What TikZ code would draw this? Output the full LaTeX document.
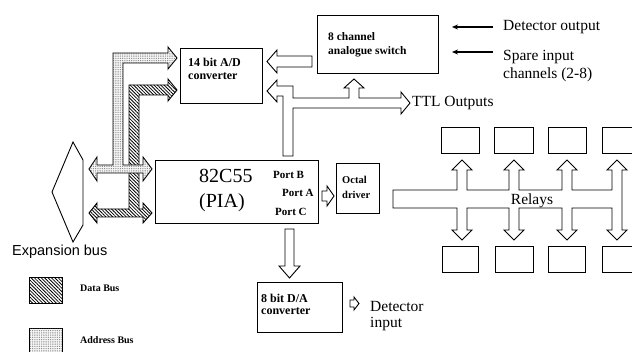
\documentclass[tikz,border=0pt]{standalone}
\usepackage{fontspec}
\setmainfont{Liberation Serif}
\newfontfamily\arialf{Liberation Sans}
\usetikzlibrary{patterns.meta,arrows.meta}
\begin{document}
\begin{tikzpicture}[x=1pt,y=-1pt,
  box/.style={draw, line width=0.9pt, inner sep=0pt, anchor=north west},
  bus/.style={draw, line width=0.9pt, line join=miter, fill=white},
  databus/.style={draw, line width=0.9pt, fill=white, postaction={pattern={Lines[angle=-45,distance=2.4pt,line width=0.8pt]}}},
  addrbus/.style={draw, line width=0.9pt, fill=gray!8, postaction={pattern={Dots[distance=1.8pt,radius=0.38pt]},pattern color=black!75}},
  small/.style={font=\fontsize{11}{12}\selectfont\bfseries, inner sep=0pt, anchor=west},
  conv/.style={font=\fontsize{12}{13}\selectfont\bfseries, inner sep=0pt, anchor=west},
  big/.style={font=\fontsize{15.5}{17}\selectfont, inner sep=0pt, anchor=west},
  thinarrow/.style={line width=1.2pt, -{Stealth[length=6pt,width=5pt]}},
]
\useasboundingbox (0,0) rectangle (632,352);
\clip (0,0) rectangle (632,352);

% boxes
\node[box, minimum width=82pt, minimum height=55pt] (ad) at (180,48) {};
\node[box, minimum width=121pt, minimum height=58pt] (sw) at (317,15) {};
\node[box, minimum width=163pt, minimum height=63pt] (pia) at (155,160) {};
\node[box, minimum width=43pt, minimum height=50pt] (oct) at (336,163) {};
\node[box, minimum width=85pt, minimum height=50pt] (da) at (257,282) {};
\node[box, minimum width=38pt, minimum height=26pt] (u1) at (441,127) {};
\node[box, minimum width=39pt, minimum height=26pt] (u2) at (494,127) {};
\node[box, minimum width=38pt, minimum height=26pt] (u3) at (548,127) {};
\node[box, minimum width=40pt, minimum height=26pt] (u4) at (602,127) {};
\node[box, minimum width=36pt, minimum height=26pt] (l1) at (442,246) {};
\node[box, minimum width=38pt, minimum height=26pt] (l2) at (495,246) {};
\node[box, minimum width=37pt, minimum height=26pt] (l3) at (548,246) {};
\node[box, minimum width=40pt, minimum height=26pt] (l4) at (602,246) {};

% texts
\node[conv] (adt1) at (188,62) {14 bit A/D};
\node[conv] (adt2) at (188,76) {converter};
\node[small, font=\fontsize{11.5}{12}\selectfont\bfseries] (swt1) at (328,37) {8 channel};
\node[small, font=\fontsize{11.5}{12}\selectfont\bfseries] (swt2) at (328,52) {analogue switch};
\node[inner sep=0pt, anchor=west, font=\fontsize{20}{22}\selectfont] (piat1) at (199,176) {82C55};
\node[inner sep=0pt, anchor=west, font=\fontsize{20}{22}\selectfont] (piat2) at (199,203) {(PIA)};
\node[small] (pb) at (273,175) {Port B};
\node[small] (pa) at (282,193) {Port A};
\node[small] (pc) at (275,212) {Port C};
\node[small, font=\fontsize{10.5}{12}\selectfont\bfseries] (octt1) at (342,180) {Octal};
\node[small, font=\fontsize{10.5}{12}\selectfont\bfseries] (octt2) at (342,195) {driver};
\node[conv] (dat1) at (261,298) {8 bit D/A};
\node[conv] (dat2) at (261,311) {converter};
\node[big] (detout) at (503,27) {Detector output};
\node[big] (spare1) at (503,57) {Spare input};
\node[big] (spare2) at (503,75) {channels (2-8)};
\node[big] (ttl) at (412,103) {TTL Outputs};
\node[big] (detin1) at (370,307) {Detector};
\node[big] (detin2) at (370,324) {input};
\node[inner sep=0pt, anchor=west, font=\arialf\fontsize{14.5}{16}\selectfont] (exp) at (12,252) {Expansion bus};
\node[small, font=\fontsize{10}{12}\selectfont\bfseries] (ldt) at (80,288) {Data Bus};
\node[small, font=\fontsize{10}{12}\selectfont\bfseries] (lat) at (80,340) {Address Bus};

% legend boxes
\node[box, databus, minimum width=33pt, minimum height=26pt] (ld) at (29,277) {};
\node[box, addrbus, minimum width=33pt, minimum height=26pt] (la) at (29,328) {};

% thin input arrows
\coordinate (swin1) at (452,27);
\coordinate (swin2) at (452,52);
\draw[thinarrow] ([xshift=-10pt]detout.west) -- (swin1);
\draw[thinarrow] ([xshift=-10pt,yshift=5pt]spare1.west) -- (swin2);

% switch -> A/D
\draw[bus] (312,56) -- (277,56) -- (277,50) -- (267,61.5) -- (277,73) -- (277,67) -- (312,67) -- cycle;

% Port B bus: to A/D, switch and TTL outputs
\draw[bus] (283,156) -- (283,96) -- (277,96) -- (277,102) -- (267,91) -- (277,80) -- (277,86) -- (293,86)
  -- (293,98) -- (349,98) -- (349,88) -- (344,88) -- (354,79) -- (364,88) -- (359,88) -- (359,98)
  -- (401,98) -- (401,92) -- (410,103) -- (401,114) -- (401,108) -- (293,108) -- (293,156) -- cycle;

% PIA -> D/A
\draw[bus] (285,229) -- (285,266) -- (279,266) -- (289.5,278) -- (300,266) -- (294,266) -- (294,229) -- cycle;

% Port A -> octal driver
\draw[bus] (322,191) -- (327,191) -- (327,186) -- (334,196) -- (327,206) -- (327,201) -- (322,201) -- cycle;

% D/A -> detector input
\draw[bus] (350,300) -- (354,300) -- (354,297) -- (359,303.5) -- (354,310) -- (354,307) -- (350,307) -- cycle;

% expansion bus
\draw[bus] (52,192) -- (73,142) -- (83,160) -- (83,225) -- (73,242) -- cycle;

% relays bus
\draw[bus] (393,190)
  -- (457,190) -- (457,170) -- (452,170) -- (462,160) -- (472,170) -- (467,170) -- (467,190)
  -- (509,190) -- (509,170) -- (504,170) -- (514,160) -- (524,170) -- (519,170) -- (519,190)
  -- (562,190) -- (562,170) -- (557,170) -- (567,160) -- (577,170) -- (572,170) -- (572,190)
  -- (612,190) -- (612,170) -- (607,170) -- (617,160) -- (627,170) -- (622,170)
  -- (622,230) -- (627,230) -- (617,240) -- (607,230) -- (612,230) -- (612,208)
  -- (572,208) -- (572,230) -- (577,230) -- (567,240) -- (557,230) -- (562,230) -- (562,208)
  -- (519,208) -- (519,230) -- (524,230) -- (514,240) -- (504,230) -- (509,230) -- (509,208)
  -- (467,208) -- (467,230) -- (472,230) -- (462,240) -- (452,230) -- (457,230) -- (457,208)
  -- (393,208) -- cycle;
\node[big, anchor=center] (relt) at (532,201) {Relays};

% data bus
\draw[databus] (89,213) -- (97,203) -- (97,209) -- (129,209) -- (129,85) -- (168,85) -- (168,79)
  -- (177,90) -- (168,101) -- (168,95) -- (139,95) -- (139,209) -- (143,209) -- (143,203)
  -- (152,213) -- (143,223) -- (143,217) -- (97,217) -- (97,223) -- cycle;

% address bus
\draw[addrbus] (89,169) -- (97,157) -- (97,165) -- (113,165) -- (113,53) -- (168,53) -- (168,47)
  -- (177,58) -- (168,69) -- (168,63) -- (123,63) -- (123,165) -- (143,165) -- (143,157)
  -- (152,169) -- (143,181) -- (143,173) -- (97,173) -- (97,181) -- cycle;
\end{tikzpicture}
\end{document}
